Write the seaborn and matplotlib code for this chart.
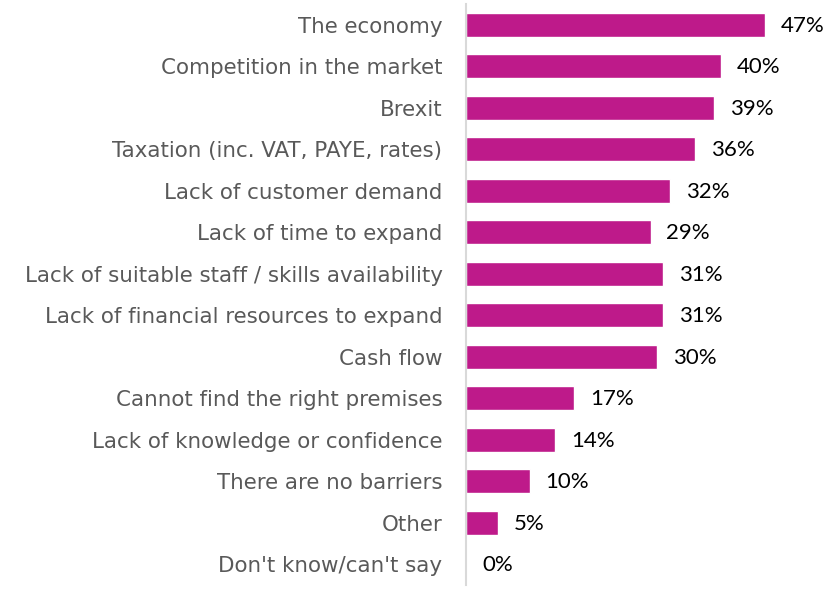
import matplotlib
matplotlib.use("Agg")
import matplotlib.pyplot as plt
import seaborn as sns
import pandas as pd

categories = [
    "The economy",
    "Competition in the market",
    "Brexit",
    "Taxation (inc. VAT, PAYE, rates)",
    "Lack of customer demand",
    "Lack of time to expand",
    "Lack of suitable staff / skills availability",
    "Lack of financial resources to expand",
    "Cash flow",
    "Cannot find the right premises",
    "Lack of knowledge or confidence",
    "There are no barriers",
    "Other",
    "Don't know/can't say",
]
values = [47, 40, 39, 36, 32, 29, 31, 31, 30, 17, 14, 10, 5, 0]

df = pd.DataFrame({"barrier": categories, "pct": values})

sns.set_theme(style="white")
bar_color = "#BE1A8A"

fig = plt.figure(figsize=(8.27, 5.89), dpi=100)
ax = fig.add_axes([466 / 827, 1 - 585 / 589, 350 / 827, 581 / 589])

sns.barplot(data=df, x="pct", y="barrier", orient="h", color=bar_color,
            width=0.58, saturation=1, ax=ax)

ax.set_xlim(0, 55)
ax.set_ylim(len(categories) - 0.5, -0.5)
ax.set_xlabel("")
ax.set_ylabel("")
ax.set_xticks([])
for side in ["top", "right", "bottom"]:
    ax.spines[side].set_visible(False)
ax.spines["left"].set_color("#D9D9D9")
ax.spines["left"].set_linewidth(1.5)

ax.tick_params(axis="y", length=0, pad=17)
for lbl in ax.get_yticklabels():
    lbl.set_fontfamily("DejaVu Sans")
    lbl.set_fontsize(15.4)
    lbl.set_color("#595959")

for i, v in enumerate(values):
    ax.text(v + 2.5, i + 0.03, f"{v}%", va="center", ha="left",
            fontsize=16, color="#000000", family="Lato")

fig.savefig("out.png", dpi=100)
